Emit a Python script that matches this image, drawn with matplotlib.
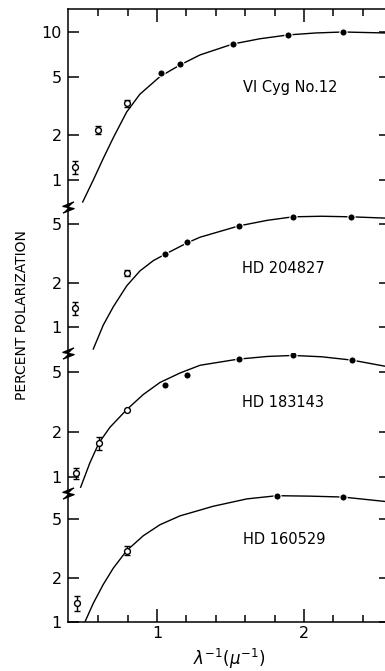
import matplotlib
matplotlib.use("Agg")
import matplotlib.pyplot as plt
import numpy as np

# star names, one per panel (top to bottom)
stars = ["VI Cyg No.12", "HD 204827", "HD 183143", "HD 160529"]

# VI Cyg No. 12
cyg_open_x = [0.442, 0.599, 0.796]
cyg_open_y = [1.22, 2.18, 3.31]
cyg_open_err = [0.13, 0.15, 0.18]
cyg_fill_x = [1.027, 1.156, 1.517, 1.891, 2.265]
cyg_fill_y = [5.28, 6.08, 8.3, 9.55, 10.0]
cyg_curve_x = [0.495, 0.567, 0.635, 0.703, 0.794, 0.884, 1.020, 1.156, 1.293,
               1.517, 1.70, 1.891, 2.08, 2.265, 2.551]
cyg_curve_y = [0.71, 1.0, 1.40, 1.93, 2.88, 3.80, 4.99, 5.98, 7.0,
               8.3, 9.0, 9.55, 9.85, 10.0, 9.85]

# HD 204827
hd204_open_x = [0.442, 0.794]
hd204_open_y = [1.34, 2.34]
hd204_open_err = [0.13, 0.11]
hd204_fill_x = [1.056, 1.204, 1.558, 1.925, 2.32]
hd204_fill_y = [3.12, 3.77, 4.86, 5.6, 5.6]
hd204_curve_x = [0.567, 0.635, 0.703, 0.794, 0.884, 0.975, 1.056, 1.204, 1.293,
                 1.558, 1.75, 1.925, 2.12, 2.32, 2.551]
hd204_curve_y = [0.708, 1.03, 1.37, 1.90, 2.40, 2.82, 3.12, 3.72, 4.07,
                 4.86, 5.3, 5.6, 5.65, 5.6, 5.49]

# HD 183143
hd183_open_x = [0.449, 0.605, 0.794]
hd183_open_y = [1.06, 1.68, 2.81]
hd183_open_err = [0.09, 0.16, 0.0]
hd183_fill_x = [1.056, 1.204, 1.558, 1.925, 2.327]
hd183_fill_y = [4.08, 4.77, 6.12, 6.48, 6.03]
hd183_curve_x = [0.481, 0.544, 0.605, 0.680, 0.794, 0.907, 1.020, 1.156, 1.293,
                 1.551, 1.75, 1.925, 2.12, 2.327, 2.551]
hd183_curve_y = [0.85, 1.24, 1.68, 2.14, 2.81, 3.55, 4.27, 4.94, 5.57,
                 6.12, 6.38, 6.48, 6.35, 6.03, 5.49]

# HD 160529
hd160_open_x = [0.456, 0.794]
hd160_open_y = [1.35, 3.05]
hd160_open_err = [0.16, 0.21]
hd160_fill_x = [1.816, 2.265]
hd160_fill_y = [7.2, 7.05]
hd160_curve_x = [0.51, 0.567, 0.635, 0.703, 0.794, 0.907, 1.020, 1.156, 1.293,
                 1.381, 1.612, 1.816, 2.04, 2.265, 2.551]
hd160_curve_y = [1.0, 1.34, 1.80, 2.32, 3.05, 3.85, 4.57, 5.25, 5.75,
                 6.1, 6.85, 7.2, 7.15, 7.05, 6.58]

panels = [
    (cyg_open_x, cyg_open_y, cyg_open_err, cyg_fill_x, cyg_fill_y, cyg_curve_x, cyg_curve_y),
    (hd204_open_x, hd204_open_y, hd204_open_err, hd204_fill_x, hd204_fill_y, hd204_curve_x, hd204_curve_y),
    (hd183_open_x, hd183_open_y, hd183_open_err, hd183_fill_x, hd183_fill_y, hd183_curve_x, hd183_curve_y),
    (hd160_open_x, hd160_open_y, hd160_open_err, hd160_fill_x, hd160_fill_y, hd160_curve_x, hd160_curve_y),
]
y_ticks = [[1, 2, 5, 10], [1, 2, 5], [1, 2, 5], [1, 2, 5]]
y_lims = [(0.657, 14.3), (0.665, 6.53), (0.778, 6.73), (1.0, 7.51)]

plt.rcParams["font.family"] = "DejaVu Sans"

W_PX, H_PX = 385, 671
fig = plt.figure(figsize=(W_PX / 100, H_PX / 100), dpi=100)

left_px, right_px = 68, 390
rows_px = [(9, 207), (207, 353), (353, 493), (493, 622)]
text_pos = [(0.543, 0.606), (0.540, 0.582), (0.540, 0.643), (0.543, 0.636)]

break_marker = [(-1, -1.0), (1, -0.2), (-1, 0.2), (1, 1.0)]

axes = []
for i, (top, bot) in enumerate(rows_px):
    ax = fig.add_axes([left_px / W_PX, 1 - bot / H_PX,
                       (right_px - left_px) / W_PX, (bot - top) / H_PX])
    axes.append(ax)
    ox, oy, oerr, fx, fy, cx, cy = panels[i]

    ax.plot(cx, cy, color="black", lw=1.0, zorder=2)

    # the open points with no error bar are left out of the errorbar call
    has_err = [e > 0 for e in oerr]
    ex = [x for x, h in zip(ox, has_err) if h]
    ey = [y for y, h in zip(oy, has_err) if h]
    ee = [e for e, h in zip(oerr, has_err) if h]
    ax.errorbar(ex, ey, yerr=ee, fmt="none", ecolor="black", elinewidth=1.0,
                capsize=2.2, capthick=1.0, zorder=3)
    ax.plot(ox, oy, "o", ms=4.2, mfc="white", mec="black", mew=1.0, zorder=4)
    ax.plot(fx, fy, "o", ms=5.2, mfc="black", mec="white", mew=0.8, zorder=4)

    ax.set_yscale("log")
    ax.set_xlim(0.395, 2.585)
    ax.set_ylim(*y_lims[i])
    ax.set_yticks(y_ticks[i], [str(t) for t in y_ticks[i]])
    ax.minorticks_off()
    ax.set_xticks([1, 2])
    ax.set_xticks([0.6, 0.8, 1.2, 1.4, 1.6, 1.8, 2.2, 2.4], minor=True)

    ax.tick_params(axis="y", which="major", direction="in", length=8,
                   width=1.1, left=True, right=True, labelsize=11.5, pad=4.5)
    ax.tick_params(axis="x", which="major", direction="in", length=9.5, width=1.1,
                   top=(i == 0), bottom=(i == 3), labelbottom=(i == 3),
                   labelsize=11.5, pad=3)
    ax.tick_params(axis="x", which="minor", direction="in", length=5, width=1.1,
                   top=(i == 0), bottom=(i == 3))
    for side in ["left", "right", "top", "bottom"]:
        ax.spines[side].set_linewidth(1.1)
    ax.spines["top"].set_visible(i == 0)
    ax.spines["bottom"].set_visible(i == 3)
    ax.patch.set_alpha(0)

    ax.text(text_pos[i][0], text_pos[i][1], stars[i], transform=ax.transAxes,
            ha="left", va="center", fontsize=10.5)

    if i > 0:
        ax.plot([0], [1], marker=break_marker, ms=8, color="black", mew=1.0,
                transform=ax.transAxes, clip_on=False, zorder=5)

axes[3].set_xlabel(r"$\lambda^{-1}(\mu^{-1})$", fontsize=12, labelpad=4)
fig.text(22 / W_PX, 1 - 315 / H_PX, "PERCENT POLARIZATION", rotation=90,
         ha="center", va="center", fontsize=10)

fig.savefig("out.png", dpi=100)
